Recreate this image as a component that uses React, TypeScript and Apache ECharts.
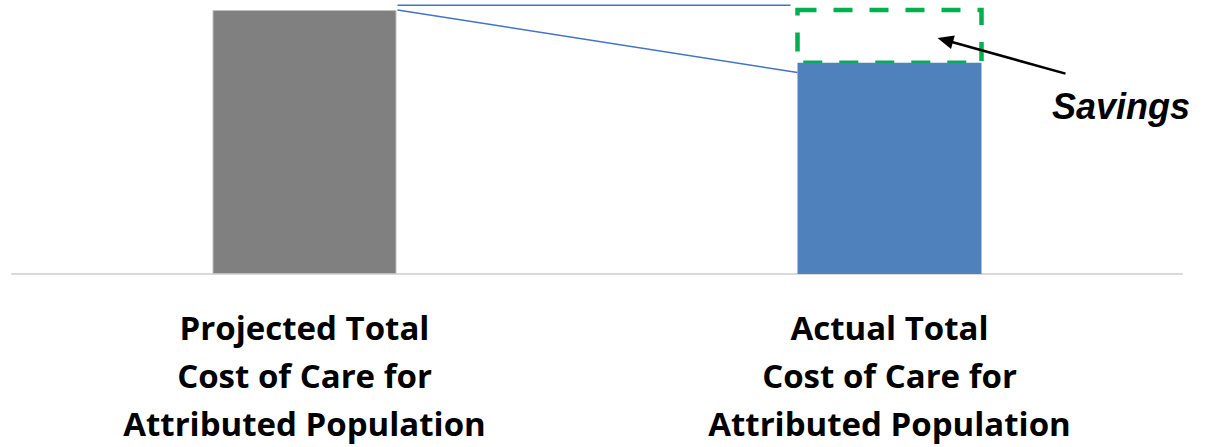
import React, { useEffect, useRef } from "react";
import * as echarts from "echarts";

const categories = [
  "Projected Total\nCost of Care for\nAttributed Population",
  "Actual Total\nCost of Care for\nAttributed Population",
];
const costValues = [100, 80];
const barColors = ["#808080", "#4F81BD"];
const annotationLabel = "Savings";
// connector line levels (value space)
const connectorTop = 101.8;
const connectorSlopeEnd = 76.3;
// arrow levels (value space)
const arrowTipValue = 89.4;
const arrowTailValue = 75.9;

export default function App() {
  const ref = useRef<HTMLDivElement>(null);
  useEffect(() => {
    document.body.style.margin = "0";
    const chart = echarts.init(ref.current!, null, { renderer: "svg" });
    const halfW = 92;
    chart.setOption({
      animation: false,
      grid: { left: 12, right: 26, top: 10, bottom: 171 },
      xAxis: {
        type: "category",
        data: categories,
        axisLine: { lineStyle: { color: "#D9D9D9", width: 2 } },
        axisTick: { show: false },
        axisLabel: {
          interval: 0,
          margin: 29,
          fontFamily: "Open Sans",
          fontWeight: "bold",
          fontSize: 33,
          lineHeight: 48,
          color: "#000",
        },
      },
      yAxis: { type: "value", min: 0, max: 100, show: false, splitLine: { show: false } },
      series: [
        {
          type: "bar",
          barWidth: halfW * 2,
          data: costValues.map((v, i) => ({
            value: v,
            itemStyle: {
              color: barColors[i],
              borderColor: i === 0 ? "#BFBFBF" : barColors[i],
              borderWidth: i === 0 ? 1 : 0,
            },
          })),
        },
      ],
    });

    const p = (ci: number, v: number) =>
      chart.convertToPixel({ xAxisIndex: 0, yAxisIndex: 0 }, [ci, v]) as number[];
    const gx = p(0, 0)[0];
    const ax = p(1, 0)[0];
    const y = (v: number) => p(0, v)[1];

    const tip = [ax + halfW - 44, y(arrowTipValue)];
    const tail = [ax + halfW + 84, y(arrowTailValue)];
    const dx = tip[0] - tail[0];
    const dy = tip[1] - tail[1];
    const len = Math.sqrt(dx * dx + dy * dy);
    const ux = dx / len, uy = dy / len;
    const headL = 16, headW = 7;
    const base = [tip[0] - ux * headL, tip[1] - uy * headL];
    const nx = -uy, ny = ux;

    chart.setOption({
      graphic: [
        {
          type: "line",
          shape: { x1: gx + halfW + 1, y1: y(connectorTop), x2: ax - halfW - 7, y2: y(connectorTop) },
          style: { stroke: "#4472C4", lineWidth: 1.5 },
        },
        {
          type: "line",
          shape: { x1: gx + halfW + 1, y1: y(costValues[0]), x2: ax - halfW, y2: y(connectorSlopeEnd) },
          style: { stroke: "#4472C4", lineWidth: 1.5 },
        },
        {
          type: "rect",
          shape: {
            x: ax - halfW,
            y: y(costValues[0]),
            width: halfW * 2,
            height: y(costValues[1]) - y(costValues[0]),
          },
          style: { fill: "none", stroke: "#00B050", lineWidth: 4.5, lineDash: [19, 17] },
        },
        {
          type: "line",
          shape: { x1: tail[0], y1: tail[1], x2: base[0] + ux * 2, y2: base[1] + uy * 2 },
          style: { stroke: "#000", lineWidth: 2.5 },
        },
        {
          type: "polygon",
          shape: {
            points: [
              tip,
              [base[0] + nx * headW, base[1] + ny * headW],
              [base[0] - nx * headW, base[1] - ny * headW],
            ],
          },
          style: { fill: "#000" },
        },
        {
          type: "text",
          x: 1052,
          y: 106,
          style: {
            text: annotationLabel,
            fontFamily: "Liberation Sans",
            fontWeight: "bold",
            fontStyle: "italic",
            fontSize: 36,
            fill: "#000",
            verticalAlign: "middle",
            align: "left",
          },
        },
      ],
    });
    return () => chart.dispose();
  }, []);
  return <div ref={ref} style={{ width: 1208, height: 447 }} />;
}
